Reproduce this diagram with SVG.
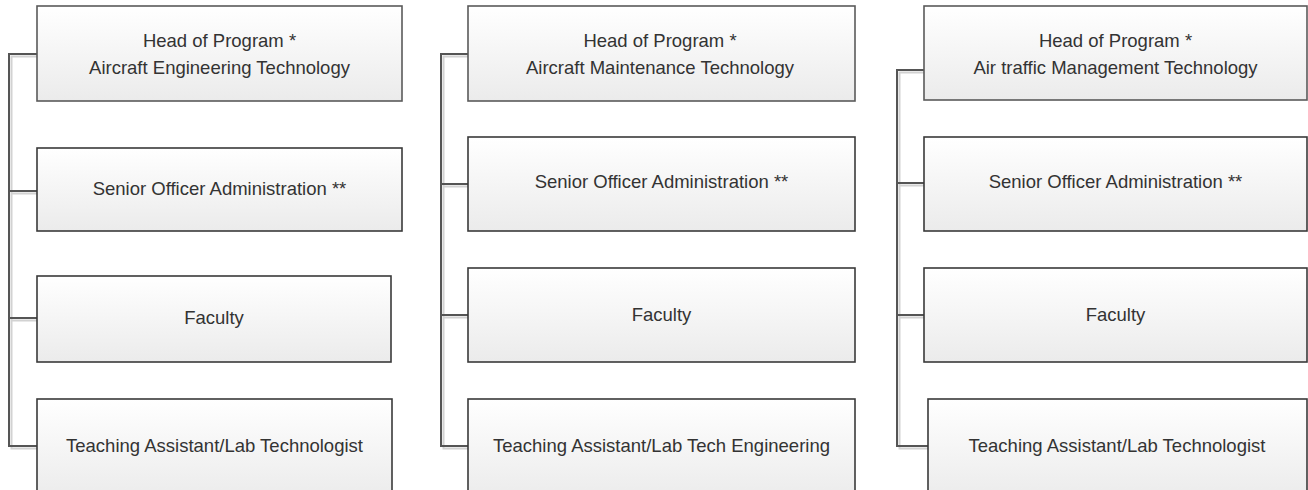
<svg xmlns="http://www.w3.org/2000/svg" width="1308" height="490" viewBox="0 0 1308 490">
<defs>
<linearGradient id="g" x1="0" y1="0" x2="0" y2="1">
<stop offset="0" stop-color="#ffffff"/>
<stop offset="1" stop-color="#ebebeb"/>
</linearGradient>
<style>
.box{fill:url(#g);stroke:#3a3a3a;stroke-width:1.6}
.head{fill:url(#g);stroke:#5a5a5a;stroke-width:1.6}
.t{font-family:"Liberation Sans",Arial,sans-serif;font-size:18.5px;fill:#333;text-anchor:middle}
.c{fill:none;stroke:#555;stroke-width:2}
.s{fill:none;stroke:#d2d2d2;stroke-width:2}
</style>
</defs>
<rect width="1308" height="490" fill="#fff"/>
<g id="connectors">
<g transform="translate(2.5,2.5)">
<path class="s" d="M37,54 H9 V446 H37 M9,191 H37 M9,318 H37"/>
<path class="s" d="M468,54 H441 V446 H468 M441,184 H468 M441,315 H468"/>
<path class="s" d="M924,70 H897 V446 H928 M897,183 H924 M897,315 H924"/>
</g>
<path class="c" d="M37,54 H9 V446 H37 M9,191 H37 M9,318 H37"/>
<path class="c" d="M468,54 H441 V446 H468 M441,184 H468 M441,315 H468"/>
<path class="c" d="M924,70 H897 V446 H928 M897,183 H924 M897,315 H924"/>
</g>
<g id="n1-head"><rect class="head" x="37" y="6" width="365" height="95"/><text class="t" x="219.5" y="47">Head of Program *</text><text class="t" x="219.5" y="74">Aircraft Engineering Technology</text></g>
<g id="n1-senior"><rect class="box" x="37" y="148" width="365" height="83"/><text class="t" x="219.5" y="195">Senior Officer Administration **</text></g>
<g id="n1-faculty"><rect class="box" x="37" y="276" width="354" height="86"/><text class="t" x="214" y="324">Faculty</text></g>
<g id="n1-ta"><rect class="box" x="37" y="399" width="355" height="100"/><text class="t" x="214.5" y="452">Teaching Assistant/Lab Technologist</text></g>
<g id="n2-head"><rect class="head" x="468" y="6" width="387" height="95"/><text class="t" x="660" y="47">Head of Program *</text><text class="t" x="660" y="74">Aircraft Maintenance Technology</text></g>
<g id="n2-senior"><rect class="box" x="468" y="137" width="387" height="94"/><text class="t" x="661.5" y="188">Senior Officer Administration **</text></g>
<g id="n2-faculty"><rect class="box" x="468" y="268" width="387" height="94"/><text class="t" x="661.5" y="321">Faculty</text></g>
<g id="n2-ta"><rect class="box" x="468" y="399" width="387" height="100"/><text class="t" x="661.5" y="452">Teaching Assistant/Lab Tech Engineering</text></g>
<g id="n3-head"><rect class="head" x="924" y="6" width="383" height="94"/><text class="t" x="1115.5" y="47">Head of Program *</text><text class="t" x="1115.5" y="74">Air traffic Management Technology</text></g>
<g id="n3-senior"><rect class="box" x="924" y="137" width="383" height="94"/><text class="t" x="1115.5" y="188">Senior Officer Administration **</text></g>
<g id="n3-faculty"><rect class="box" x="924" y="268" width="383" height="94"/><text class="t" x="1115.5" y="321">Faculty</text></g>
<g id="n3-ta"><rect class="box" x="928" y="399" width="379" height="100"/><text class="t" x="1117" y="452">Teaching Assistant/Lab Technologist</text></g>
</svg>
